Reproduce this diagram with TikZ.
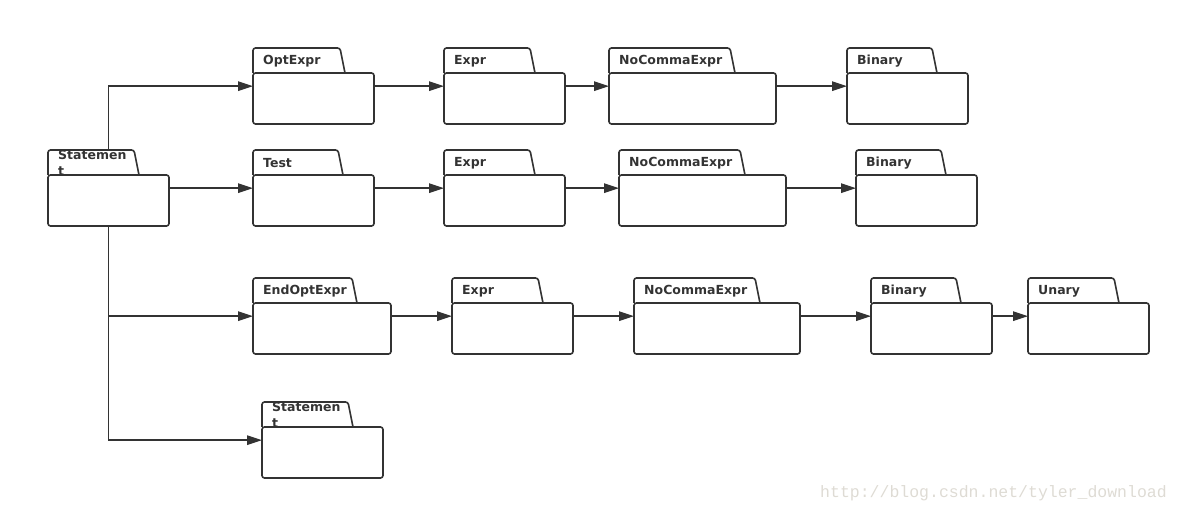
\documentclass[tikz,border=0pt]{standalone}
\usepackage{fontspec}
\setmainfont{DejaVu Sans}
\newfontfamily\markfont{Liberation Mono}
\usetikzlibrary{arrows.meta}
\definecolor{pkgdark}{RGB}{51,51,51}
\definecolor{markgray}{RGB}{222,219,212}
\tikzset{
	% ---- custom
	pkg frame/.style={anchor=north west, minimum height=76pt, inner sep=0pt},
	pkg line/.style={line width=1.6pt, draw=pkgdark, rounded corners=2.5pt},
	pkg label/.style={anchor=west, font=\bfseries\fontsize{12.5}{16}\selectfont, text=pkgdark, align=left, inner sep=0pt},
	flow/.style={line width=1.4pt, draw=pkgdark, -{Triangle[length=15pt, width=9.5pt]}},
	watermark/.style={anchor=base west, font=\markfont\fontsize{16.5}{18}\selectfont, text=markgray, inner sep=0pt},
}
% name, x, y (tab top), body width, tab width, label
\newcommand{\umlpkg}[6]{%
	\node[pkg frame, minimum width=#4pt] (#1) at (#2,#3) {};
	\draw[pkg line] (#2,#3+25) rectangle (#2+#4,#3+76);
	\draw[pkg line] (#2,#3+25) -- (#2,#3) -- (#2+#5-5,#3) -- (#2+#5,#3+25);
	\node[pkg label] (#1 label) at (#2+10,#3+13) {#6};
}

\begin{document}
\begin{tikzpicture}[x=1pt, y=-1pt]

	\useasboundingbox (0,0) rectangle (1181,510);

% packages %{{{2

	\umlpkg{stmt}{48}{150}{121}{91}{Statemen\\t}

	\umlpkg{opt}{253}{48}{121}{92}{OptExpr}
	\umlpkg{exprA}{444}{48}{121}{91}{Expr}
	\umlpkg{ncA}{609}{48}{167}{126}{NoCommaExpr}
	\umlpkg{binA}{847}{48}{121}{90}{Binary}

	\umlpkg{test}{253}{150}{121}{90}{Test}
	\umlpkg{exprB}{444}{150}{121}{91}{Expr}
	\umlpkg{ncB}{619}{150}{167}{126}{NoCommaExpr}
	\umlpkg{binB}{856}{150}{121}{90}{Binary}

	\umlpkg{endopt}{253}{278}{138}{104}{EndOptExpr}
	\umlpkg{exprC}{452}{278}{121}{91}{Expr}
	\umlpkg{ncC}{634}{278}{166}{126}{NoCommaExpr}
	\umlpkg{binC}{871}{278}{121}{90}{Binary}
	\umlpkg{unary}{1028}{278}{121}{91}{Unary}

	\umlpkg{stmtB}{262}{402}{121}{91}{Statemen\\t}

% connectors %{{{2

	\draw[flow] (stmt.north) |- (opt.west);
	\draw[flow] (stmt.east) -- (test.west);
	\draw[flow] (stmt.south) |- (endopt.west);
	\draw[flow] (stmt.south) |- (stmtB.west);

	\draw[flow] (opt.east) -- (exprA.west);
	\draw[flow] (exprA.east) -- (ncA.west);
	\draw[flow] (ncA.east) -- (binA.west);

	\draw[flow] (test.east) -- (exprB.west);
	\draw[flow] (exprB.east) -- (ncB.west);
	\draw[flow] (ncB.east) -- (binB.west);

	\draw[flow] (endopt.east) -- (exprC.west);
	\draw[flow] (exprC.east) -- (ncC.west);
	\draw[flow] (ncC.east) -- (binC.west);
	\draw[flow] (binC.east) -- (unary.west);

% watermark %{{{2

	\node[watermark] (mark) at (820,497) {http://blog.csdn.net/tyler\_download};

% closing %{{{2

\end{tikzpicture}
\end{document}
